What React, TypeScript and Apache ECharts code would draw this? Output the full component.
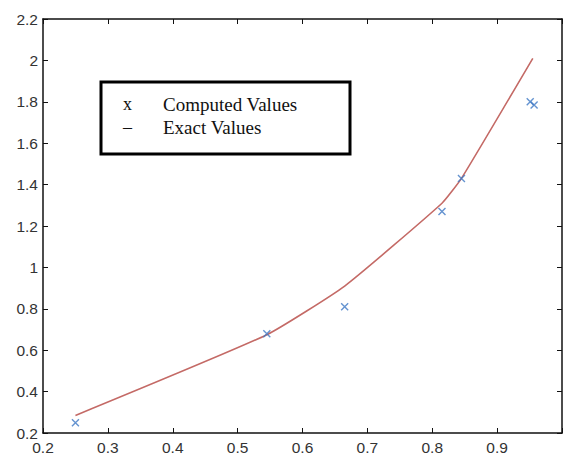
import React, { useEffect, useRef } from "react";
import * as echarts from "echarts";

const computedX = [0.25, 0.545, 0.665, 0.815, 0.845, 0.951, 0.957];
const computedY = [0.25, 0.68, 0.81, 1.27, 1.43, 1.80, 1.785];
const exactX = [0.25, 0.545, 0.665, 0.815, 0.845, 0.955];
const exactY = [0.285, 0.675, 0.91, 1.31, 1.43, 2.01];
const legendLabels = ["Computed Values", "Exact Values"];
const legendMarks = ["x", "–"];

export default function App() {
  const ref = useRef<HTMLDivElement>(null);
  useEffect(() => {
    const chart = echarts.init(ref.current!, null, { renderer: "svg" });
    const labelStyle = {
      color: "#333",
      fontFamily: "Liberation Sans, Arial, sans-serif",
      fontSize: 15.5,
    };
    const mkX = (pos: "bottom" | "top", show: boolean) => ({
      type: "value",
      position: pos,
      min: 0.2,
      max: 1.0,
      interval: 0.1,
      axisLine: { show: true, onZero: false, lineStyle: { color: "#111", width: 1.5 } },
      axisTick: { show: true, inside: true, length: 5, lineStyle: { color: "#111" } },
      axisLabel: {
        show,
        margin: 6,
        ...labelStyle,
        formatter: (v: number) => (v >= 0.99 ? "" : String(Math.round(v * 10) / 10)),
      },
      splitLine: { show: false },
    });
    const mkY = (pos: "left" | "right", show: boolean) => ({
      type: "value",
      position: pos,
      min: 0.2,
      max: 2.2,
      interval: 0.2,
      axisLine: { show: true, onZero: false, lineStyle: { color: "#111", width: 1.5 } },
      axisTick: { show: true, inside: true, length: 5, lineStyle: { color: "#111" } },
      axisLabel: {
        show,
        margin: 5,
        ...labelStyle,
        formatter: (v: number) => String(Math.round(v * 10) / 10),
      },
      splitLine: { show: false },
    });
    chart.setOption({
      animation: false,
      backgroundColor: "#fff",
      grid: { left: 43, top: 19, right: -3, bottom: 23 },
      xAxis: [mkX("bottom", true), mkX("top", false)],
      yAxis: [mkY("left", true), mkY("right", false)],
      series: [
        {
          type: "line",
          data: exactX.map((x, i) => [x, exactY[i]]),
          showSymbol: false,
          symbol: "none",
          smooth: 0.15,
          lineStyle: { color: "#c46a66", width: 1.6 },
          z: 2,
        },
        {
          type: "scatter",
          data: computedX.map((x, i) => [x, computedY[i]]),
          symbol: "path://M0 0L10 10M10 0L0 10",
          symbolSize: 7,
          itemStyle: { color: "transparent", borderColor: "#3d78c4", borderWidth: 1.4 },
          z: 3,
        },
      ],
      graphic: [
        {
          type: "rect",
          shape: { x: 101, y: 82, width: 249, height: 72 },
          style: { fill: "#fff", stroke: "#000", lineWidth: 3 },
        },
        ...legendLabels.flatMap((t, i) => [
          {
            type: "text",
            x: 123,
            y: 104 + i * 23,
            style: {
              text: legendMarks[i],
              fill: "#111",
              font: "18px 'Liberation Serif', 'Times New Roman', serif",
              verticalAlign: "middle",
            },
          },
          {
            type: "text",
            x: 163,
            y: 104 + i * 23,
            style: {
              text: t,
              fill: "#111",
              font: "19px 'Liberation Serif', 'Times New Roman', serif",
              verticalAlign: "middle",
            },
          },
        ]),
      ],
    });
    return () => chart.dispose();
  }, []);
  return <div ref={ref} style={{ width: 565, height: 456, position: "absolute", left: 0, top: 0 }} />;
}
